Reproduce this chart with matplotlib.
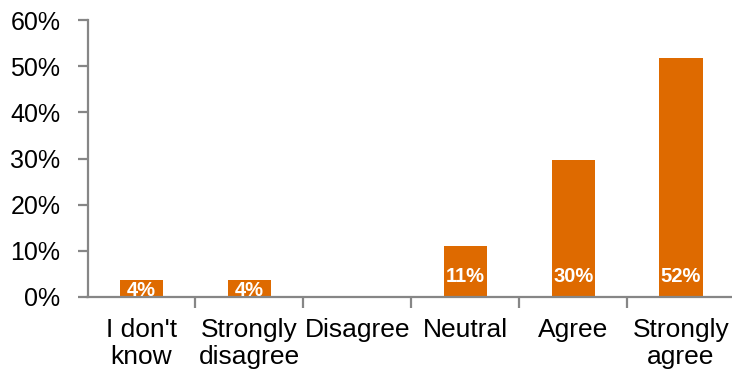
import matplotlib
matplotlib.use("Agg")
import matplotlib.pyplot as plt
from matplotlib.ticker import FixedLocator, PercentFormatter

categories = ["I don't\nknow", "Strongly\ndisagree", "Disagree", "Neutral", "Agree", "Strongly\nagree"]
values = [3.7, 3.7, 0.0, 11.1, 29.6, 51.8]
y_ticks = [0, 10, 20, 30, 40, 50, 60]

bar_color = "#DE6A00"
axis_color = "#868686"

plt.rcParams["font.family"] = ["Liberation Sans", "DejaVu Sans"]

W, H, DPI = 732, 376, 100
fig = plt.figure(figsize=(W / DPI, H / DPI), dpi=DPI)
ax = fig.add_axes([87.5 / W, (H - 297) / H, (735 - 87.5) / W, (297 - 20) / H])

x = list(range(len(categories)))
ax.bar(x, values, width=0.4, color=bar_color, zorder=2)

ax.set_xlim(-0.5, len(categories) - 0.5)
ax.set_ylim(0, 60)

for s in ("top", "right"):
    ax.spines[s].set_visible(False)
for s in ("left", "bottom"):
    ax.spines[s].set_color(axis_color)
    ax.spines[s].set_linewidth(1.6)
ax.spines["left"].set_zorder(3)
ax.spines["bottom"].set_zorder(3)

ax.set_yticks(y_ticks)
ax.yaxis.set_major_formatter(PercentFormatter(decimals=0))
ax.tick_params(axis="y", length=7.5, width=1.6, color=axis_color, pad=12,
               labelsize=18, labelcolor="black")

ax.set_xticks(x)
ax.set_xticklabels(categories, linespacing=1.18)
ax.tick_params(axis="x", which="major", length=0, pad=15, labelsize=19, labelcolor="black")
ax.xaxis.set_minor_locator(FixedLocator([i + 0.5 for i in range(len(categories) - 1)]))
ax.tick_params(axis="x", which="minor", length=8, width=1.6, color=axis_color, direction="out")

# value labels sit at the bar base, centred in short bars
px_per_unit = ax.get_position().height * H / 60.0
for xi, v in zip(x, values):
    if v <= 0:
        continue
    h_px = v * px_per_unit
    centre_px = min(h_px / 2.0, 23.0)
    base_px = centre_px - 7.5
    ax.annotate(f"{round(v):.0f}%", xy=(xi, 0), xytext=(0, base_px * 72.0 / DPI),
                textcoords="offset points", ha="center", va="baseline",
                color="white", fontweight="bold", fontsize=14.5, zorder=4)

fig.savefig("out.png", dpi=DPI)
